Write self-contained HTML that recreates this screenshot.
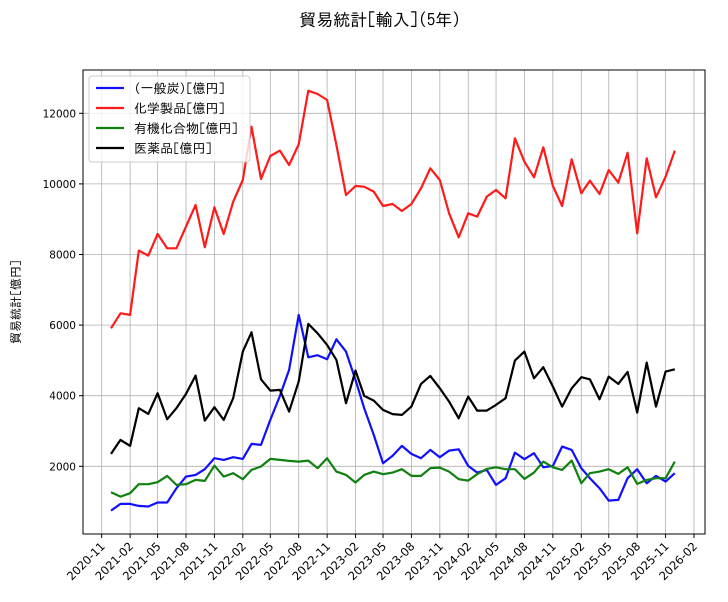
<!DOCTYPE html>
<html><head><meta charset="utf-8"><style>
body{margin:0;background:#fff;}
svg{display:block;font-family:"DejaVu Sans","IPAGothic",sans-serif;}
</style></head><body>
<svg id="chart" width="728" height="602" xmlns="http://www.w3.org/2000/svg">
<text x="380" y="26" font-size="17" text-anchor="middle" font-family="IPAGothic, Noto Sans CJK JP, sans-serif">貿易統計[輸入](5年)</text>
<text transform="translate(20,302) rotate(-90)" font-size="12" text-anchor="middle" font-family="IPAGothic, Noto Sans CJK JP, sans-serif">貿易統計[億円]</text>
<g id="grid"></g><g id="series"></g><g id="axes"></g>
<g>
<rect x="89" y="76" width="161" height="86" rx="3" fill="#fff" fill-opacity="0.8" stroke="#ccc"/>
</g>
<g id="legend"></g>
</svg>
<script>
const startYear=2020, startMonth=12;
const seriesNames=["(一般炭)[億円]","化学製品[億円]","有機化合物[億円]","医薬品[億円]"];
const seriesColors=["#1010ff","#ff1a1a","#108010","#000000"];
const coal=[746,935,935,879,860,974,974,1377,1709,1756,1917,2229,2181,2257,2210,2634,2606,3314,3994,4730,6288,5089,5146,5032,5599,5249,4447,3645,2888,2087,2300,2578,2352,2229,2465,2257,2446,2483,2011,1822,1898,1474,1662,2389,2200,2370,1973,2011,2559,2465,1945,1662,1379,1029,1048,1662,1917,1521,1728,1568,1804];
const chem=[5910,6335,6288,8110,7968,8582,8176,8176,8790,9403,8204,9337,8582,9497,10111,11621,10139,10791,10942,10536,11121,12641,12547,12377,11102,9686,9941,9922,9781,9375,9431,9233,9431,9875,10441,10111,9167,8487,9167,9073,9639,9828,9592,11291,10630,10187,11036,9941,9375,10696,9733,10092,9715,10394,10036,10885,8601,10725,9620,10205,10942];
const organic=[1266,1143,1238,1492,1492,1549,1728,1474,1492,1615,1587,2021,1709,1804,1634,1898,1993,2210,2181,2153,2134,2162,1945,2229,1851,1757,1540,1757,1851,1775,1822,1917,1728,1728,1945,1964,1851,1634,1596,1775,1926,1973,1917,1917,1643,1822,2134,1973,1898,2162,1521,1804,1851,1917,1785,1973,1502,1615,1662,1662,2134];
const pharma=[2352,2747,2577,3645,3484,4069,3333,3645,4050,4570,3295,3673,3314,3928,5249,5797,4466,4145,4164,3550,4400,6033,5769,5438,5013,3786,4711,3994,3862,3597,3480,3456,3692,4334,4560,4211,3833,3361,3975,3578,3578,3739,3928,4994,5249,4494,4806,4258,3692,4211,4523,4466,3899,4541,4334,4674,3522,4938,3692,4683,4749];
const yTicks=[2000,4000,6000,8000,10000,12000];
const xTickLabels=["2020-11","2021-02","2021-05","2021-08","2021-11","2022-02","2022-05","2022-08","2022-11","2023-02","2023-05","2023-08","2023-11","2024-02","2024-05","2024-08","2024-11","2025-02","2025-05","2025-08","2025-11","2026-02"];

const L=83,R=705,T=70,B=534;
const origin=Date.UTC(2020,10,1);
function xScale(y,m){return 101.7+(Date.UTC(y,m-1,1)-origin)/86400000*0.3088;}
function yScale(v){return 113.3+(12000-v)*0.0353;}
const NS="http://www.w3.org/2000/svg";
function mk(tag,attrs,parent){const e=document.createElementNS(NS,tag);for(const k in attrs)e.setAttribute(k,attrs[k]);parent.appendChild(e);return e;}
const grid=document.getElementById('grid'),axes=document.getElementById('axes'),ser=document.getElementById('series'),leg=document.getElementById('legend');
yTicks.forEach(v=>{const y=yScale(v);
 const g=mk('line',{x1:L,x2:R,y1:y,y2:y,stroke:'#b0b0b0','stroke-width':0.8},grid);
 
 
 mk('line',{x1:L-4,x2:L,y1:y,y2:y,stroke:'#000'},axes);
 const t=mk('text',{x:L-7,y:y+4,'font-size':10.5,'text-anchor':'end'},axes);t.textContent=v;
 
 
});
xTickLabels.forEach(s=>{const [yy,mm]=s.split('-').map(Number);const x=xScale(yy,mm);
 const g=mk('line',{x1:x,x2:x,y1:T,y2:B,stroke:'#b0b0b0','stroke-width':0.8},grid);
 
 
 mk('line',{x1:x,x2:x,y1:B,y2:B+4,stroke:'#000'},axes);
 const t=mk('text',{x:x+4,y:B+13,'font-size':11.5,'text-anchor':'end',transform:`rotate(-45 ${x+4} ${B+13})`},axes);t.textContent=s;
 
 
});
const fr=mk('rect',{x:L,y:T,width:R-L,height:B-T,fill:'none',stroke:'#000','stroke-width':1},axes);


const allData=[coal,chem,organic,pharma];
allData.forEach((arr,si)=>{
 const pts=arr.map((v,i)=>{const m=startMonth-1+i;const yy=startYear+Math.floor(m/12),mm=m%12+1;return xScale(yy,mm).toFixed(1)+','+yScale(v).toFixed(1);}).join(' ');
 const p=mk('polyline',{points:pts,fill:'none',stroke:seriesColors[si],'stroke-width':2.2,'stroke-linejoin':'round'},ser);
 
 
 const ly=88+si*20;
 const ll=mk('line',{x1:96,x2:124,y1:ly,y2:ly,stroke:seriesColors[si],'stroke-width':2.2},leg);
 
 
 const lt=mk('text',{x:134,y:ly+5,'font-size':13,'font-family':'IPAGothic, Noto Sans CJK JP, sans-serif'},leg);lt.textContent=seriesNames[si];
 
 
});
</script>
</body></html>
